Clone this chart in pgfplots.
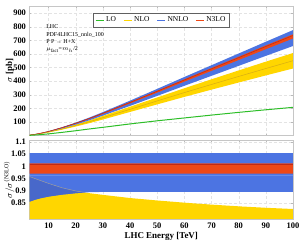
\documentclass[border=0pt]{standalone}
\usepackage{fontspec}
\setmainfont{Liberation Serif}
\usepackage{pgfplots}
\usepackage{pgfplotstable}
\pgfplotsset{compat=1.18}
\usepgfplotslibrary{fillbetween}

\definecolor{cLO}{RGB}{45,190,40}
\definecolor{cNLO}{RGB}{255,214,0}
\definecolor{cNLOline}{RGB}{215,172,20}
\definecolor{cNNLO}{RGB}{76,116,226}
\definecolor{cNNLOdark}{RGB}{72,104,202}
\definecolor{cNNLOline}{RGB}{100,140,236}
\definecolor{cN3LO}{RGB}{238,72,22}
\definecolor{cN3LOline}{RGB}{192,42,20}

\pgfplotstableread{
E N3LO N3lo N3hi NNLOlo NNLOhi NLOlo NLOc NLOhi LO
3 3.2 3.10 3.24 2.74 3.37 2.43 2.75 3.07 1.3
5 9 8.73 9.11 7.77 9.49 6.80 7.67 8.55 3.5
7 16.5 16.01 16.70 14.34 17.39 12.38 13.96 15.54 6.5
10 30 29.10 30.36 26.28 31.62 22.35 25.1 27.9 12
15 58 56.26 58.70 51.27 61.13 42.75 47.8 52.9 23
20 90 87.30 91.08 80.1 94.86 65.7 73.3 80.9 35
25 125 121.3 126.5 111.75 131.75 90.6 101 111.25 48
30 163 158.1 165.0 145.9 171.8 117.4 130.7 143.9 60
40 243 235.7 245.9 217.5 256.1 173.0 192.2 211.4 85
50 325 315.3 328.9 290.9 342.6 228.5 254.1 279.5 108
60 408 395.8 412.9 365.2 430.0 283.6 315.4 347.2 129
70 490 475.3 495.9 438.6 516.5 337.1 375.1 413.1 150
80 572 554.8 578.9 511.9 602.9 389.5 434.1 478.2 170
90 654 634.4 661.8 585.3 689.3 441.5 492.3 542.8 189
100 735 713.0 743.8 657.8 774.7 492.5 549.6 606.4 207
}\abstab

\pgfplotstableread{
E NNLOlo NNLOhi N3lo N3hi N3c NNLOc NLOlo NLOhi
3 0.855 1.054 0.970 1.012 1.007 0.962 0.760 0.958
5 0.863 1.054 0.970 1.012 1.007 0.962 0.755 0.950
7 0.869 1.054 0.970 1.012 1.007 0.962 0.750 0.942
10 0.876 1.054 0.970 1.012 1.007 0.962 0.745 0.930
15 0.884 1.054 0.970 1.012 1.007 0.962 0.737 0.912
20 0.890 1.054 0.970 1.012 1.007 0.962 0.730 0.899
25 0.894 1.054 0.970 1.012 1.007 0.962 0.725 0.890
30 0.895 1.054 0.970 1.012 1.007 0.962 0.720 0.883
40 0.895 1.054 0.970 1.012 1.007 0.962 0.712 0.870
50 0.895 1.054 0.970 1.012 1.007 0.962 0.703 0.860
60 0.895 1.054 0.970 1.012 1.007 0.962 0.695 0.851
70 0.895 1.054 0.970 1.012 1.007 0.962 0.688 0.843
80 0.895 1.054 0.970 1.012 1.007 0.962 0.681 0.836
90 0.895 1.054 0.970 1.012 1.007 0.962 0.675 0.830
100 0.895 1.054 0.970 1.012 1.007 0.962 0.670 0.825
}\ratiotab

% overlap of the NLO and NNLO ratio bands (outline: NLO upper edge, then NNLO lower edge back)
\pgfplotstableread{
E y
3 0.958
5 0.950
7 0.942
10 0.930
15 0.912
20 0.899
23.6 0.8925
20 0.890
15 0.884
10 0.876
7 0.869
5 0.863
3 0.855
}\overlaptab

\pgfplotstableread{
E y
3 0.958
5 0.950
7 0.942
10 0.930
15 0.912
20 0.899
23.6 0.8925
}\greytab

\pgfplotsset{
  mystyle/.style={
    scale only axis,
    xmin=3, xmax=100,
    xtick={10,20,...,100},
    grid=major,
    major grid style={densely dashed, gray!22, line width=0.3pt},
    axis line style={gray!45, line width=0.5pt},
    tick style={gray!55, line width=0.3pt},
    tick align=inside,
    major tick length=2pt,
    ticklabel style={font=\fontsize{8.5}{9}\selectfont\bfseries},
    /pgf/number format/assume math mode=true,
    every axis y label/.style={at={(axis description cs:-0.066,0.5)}, rotate=90, anchor=base,
      font=\fontsize{9}{10}\selectfont},
    xlabel style={font=\fontsize{9}{10}\selectfont\bfseries},
  }
}

\begin{document}
\begin{tikzpicture}

% ---------------- upper panel ----------------
\begin{axis}[mystyle,
  at={(29.5bp,104.5bp)}, anchor=south west,
  width=263.5bp, height=129.5bp,
  ymin=0, ymax=952,
  ytick={100,200,...,900},
  xticklabels={},
  ylabel={$\sigma$ \textbf{[pb]}},
  legend columns=4,
  legend style={at={(0.5,0.945)}, anchor=north,
    draw=gray!75!black, line width=0.7pt, fill=white,
    font=\fontsize{7.5}{8}\selectfont, inner sep=1.5pt,
    /tikz/every even column/.append style={column sep=5pt}},
  legend image code/.code={\draw[#1, line width=1.1pt] (0pt,0pt) -- (8pt,0pt);},
]
\addlegendimage{cLO}
\addlegendentry{LO}
\addlegendimage{cNLO}
\addlegendentry{NLO}
\addlegendimage{cNNLO}
\addlegendentry{NNLO}
\addlegendimage{cN3LO}
\addlegendentry{N3LO}

\addplot[draw=none, forget plot, name path=ua] table[x=E, y=NLOlo]{\abstab};
\addplot[draw=none, forget plot, name path=ub] table[x=E, y=NLOhi]{\abstab};
\addplot[fill=cNLO, draw=none, forget plot] fill between[of=ua and ub];
\addplot[cNLOline, line width=0.5pt, forget plot] table[x=E, y=NLOc]{\abstab};

\addplot[draw=none, forget plot, name path=uc] table[x=E, y=NNLOlo]{\abstab};
\addplot[draw=none, forget plot, name path=ud] table[x=E, y=NNLOhi]{\abstab};
\addplot[fill=cNNLO, draw=none, forget plot] fill between[of=uc and ud];

\addplot[draw=none, forget plot, name path=ue] table[x=E, y=N3lo]{\abstab};
\addplot[draw=none, forget plot, name path=uf] table[x=E, y=N3hi]{\abstab};
\addplot[fill=cN3LO, draw=none, forget plot] fill between[of=ue and uf];
\addplot[cN3LOline, line width=0.5pt, forget plot] table[x=E, y=N3LO]{\abstab};

\addplot[cLO, line width=1pt, forget plot] table[x=E, y=LO]{\abstab};

\node[anchor=north west, align=left, font=\fontsize{6}{7.3}\selectfont, inner sep=0pt]
  at (rel axis cs:0.063,0.855)
  {LHC\\PDF4LHC15\_nnlo\_100\\P P → H+X\\$\mu_{\mathrm{fact}}$=$m_h$/2};
\end{axis}

% ---------------- lower panel ----------------
\begin{axis}[mystyle,
  at={(29.5bp,21bp)}, anchor=south west,
  width=263.5bp, height=78.5bp,
  ymin=0.784, ymax=1.106,
  ytick={0.85,0.9,0.95,1,1.05,1.1},
  yticklabels={0.85,0.9,0.95,1,1.05,1.1},
  xlabel={LHC Energy [TeV]},
  xlabel shift=-3pt,
  ylabel={$\sigma/\sigma^{(\mathrm{N3LO})}$},
]
\addplot[draw=none, forget plot, name path=la] table[x=E, y=NLOlo]{\ratiotab};
\addplot[draw=none, forget plot, name path=lb] table[x=E, y=NLOhi]{\ratiotab};
\addplot[fill=cNLO, draw=none, forget plot] fill between[of=la and lb];

\addplot[draw=none, forget plot, name path=lc] table[x=E, y=NNLOlo]{\ratiotab};
\addplot[draw=none, forget plot, name path=ld] table[x=E, y=NNLOhi]{\ratiotab};
\addplot[fill=cNNLO, draw=none, forget plot] fill between[of=lc and ld];

\addplot[fill=cNNLOdark, draw=none, forget plot] table[x=E, y=y]{\overlaptab};
\addplot[gray!75, line width=0.5pt, forget plot] table[x=E, y=y]{\greytab};

\addplot[cNNLOline, line width=0.5pt, forget plot] table[x=E, y=NNLOc]{\ratiotab};

\addplot[draw=none, forget plot, name path=le] table[x=E, y=N3lo]{\ratiotab};
\addplot[draw=none, forget plot, name path=lf] table[x=E, y=N3hi]{\ratiotab};
\addplot[fill=cN3LO, draw=none, forget plot] fill between[of=le and lf];
\addplot[cN3LOline, line width=0.6pt, forget plot] table[x=E, y=N3c]{\ratiotab};
\end{axis}

\pgfresetboundingbox
\path (0,0) rectangle (300bp,240bp);
\end{tikzpicture}
\end{document}
